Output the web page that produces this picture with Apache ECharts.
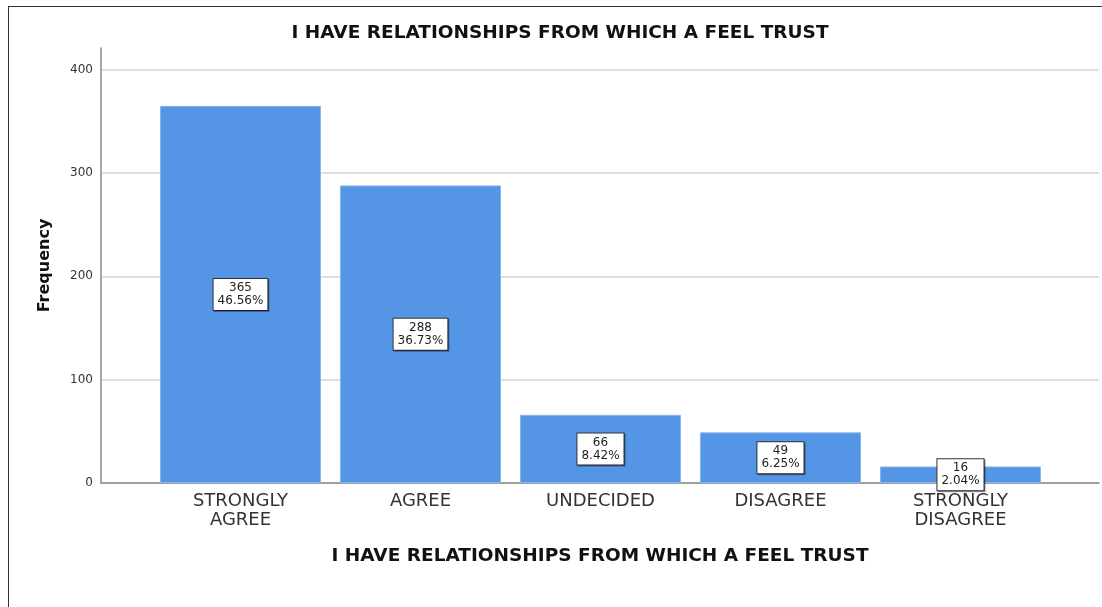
<!DOCTYPE html>
<html>
<head>
<meta charset="utf-8">
<script src="https://cdn.jsdelivr.net/npm/echarts@6/dist/echarts.min.js"></script>
<style>
  html, body { margin: 0; padding: 0; background: #fff; overflow: hidden; }
  #chart { position: absolute; left: 0; top: 0; width: 1102px; height: 607px; }
  #frame { position: absolute; left: 8px; top: 6px; width: 1094px; height: 601px;
           border-left: 1.5px solid #333; border-top: 1.5px solid #333; pointer-events: none; box-sizing: border-box; }
</style>
</head>
<body>
<div id="chart"></div>
<div id="frame"></div>
<script>
const titleText = 'I HAVE RELATIONSHIPS FROM WHICH A FEEL TRUST';
const categories = ['STRONGLY\nAGREE', 'AGREE', 'UNDECIDED', 'DISAGREE', 'STRONGLY\nDISAGREE'];
const counts = [365, 288, 66, 49, 16];
const percents = ['46.56%', '36.73%', '8.42%', '6.25%', '2.04%'];
const yTicks = [0, 100, 200, 300, 400];

const chart = echarts.init(document.getElementById('chart'), null, { renderer: 'canvas' });
const FONT = 'DejaVu Sans';
const Y_MAX = 421;

chart.setOption({
  backgroundColor: '#fff',
  animation: false,
  title: {
    text: titleText,
    left: 560,
    top: 24,
    padding: 0,
    textAlign: 'center',
    textStyle: { fontFamily: FONT, fontSize: 18.5, fontWeight: 'bold', color: '#111' }
  },
  grid: [
    { left: 101, right: 3, top: 48, bottom: 124, containLabel: false },
    { left: 150.5, right: 51.5, top: 48, bottom: 124, containLabel: false }
  ],
  xAxis: [
    {
      gridIndex: 0, type: 'value', min: 0, max: 1,
      axisLine: { show: true, lineStyle: { color: '#8a8a8a', width: 1.5 } },
      axisTick: { show: false }, axisLabel: { show: false }, splitLine: { show: false },
      name: titleText, nameLocation: 'middle', nameGap: 64,
      nameTextStyle: { fontFamily: FONT, fontSize: 18.5, fontWeight: 'bold', color: '#111' }
    },
    {
      gridIndex: 1, type: 'category', data: categories,
      axisLine: { show: false }, axisTick: { show: false }, splitLine: { show: false },
      axisLabel: { show: true, interval: 0, margin: 9, fontFamily: FONT, fontSize: 18, lineHeight: 19, color: '#333' }
    }
  ],
  yAxis: [
    {
      gridIndex: 0, type: 'value', min: 0, max: Y_MAX,
      axisLine: { show: true, lineStyle: { color: '#8a8a8a', width: 1.5 } },
      axisTick: { show: false, customValues: yTicks },
      axisLabel: { show: true, customValues: yTicks, margin: 8, fontFamily: FONT, fontSize: 12, color: '#333' },
      splitLine: { show: true, lineStyle: { color: '#d4d4d4', width: 1.5 } },
      name: 'Frequency', nameLocation: 'middle', nameGap: 48, nameRotate: 90,
      nameTextStyle: { fontFamily: FONT, fontSize: 16, fontWeight: 'bold', color: '#111' }
    },
    {
      gridIndex: 1, type: 'value', min: 0, max: Y_MAX, show: false,
      splitLine: { show: false }
    }
  ],
  series: [{
    type: 'bar',
    xAxisIndex: 1, yAxisIndex: 1,
    data: counts,
    barWidth: 161,
    itemStyle: { color: '#5595e5', borderColor: '#8ab6ee', borderWidth: 1 },
    label: {
      show: true,
      position: 'inside',
      formatter: p => counts[p.dataIndex] + '\n' + percents[p.dataIndex],
      fontFamily: FONT, fontSize: 12, lineHeight: 13, color: '#222',
      backgroundColor: '#fff', borderColor: '#333', borderWidth: 1,
      padding: [3, 4, 2, 4],
      shadowColor: 'rgba(0,0,0,0.35)', shadowOffsetX: 1, shadowOffsetY: 1, shadowBlur: 0
    }
  }]
});
</script>
</body>
</html>
